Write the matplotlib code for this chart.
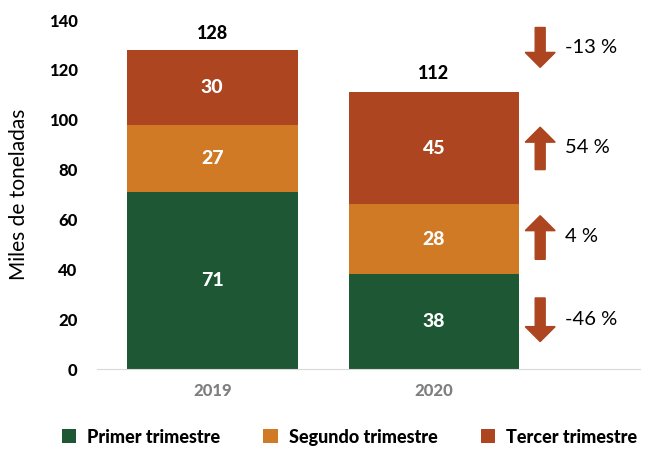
import numpy as np
from matplotlib import pyplot as plt

years = ["2019", "2020"]
primer = [71, 38]
segundo = [27, 28]
tercer = [30, 45]
totales = [128, 112]
cambios = ["-13 %", "54 %", "4 %", "-46 %"]

verde = "#1D5733"
naranja = "#D07A25"
oxido = "#AC4520"

plt.rcParams['font.family'] = ['Lato', 'DejaVu Sans']

fig = plt.figure(figsize=(6.47, 4.55), dpi=100)
ax = fig.add_axes([0.15, 0.189, 0.839, 0.767])

x = np.arange(len(years))
w = 0.77
b1 = ax.bar(x, primer, w, color=verde, label="Primer trimestre")
b2 = ax.bar(x, segundo, w, bottom=primer, color=naranja, label="Segundo trimestre")
bottom3 = [p + s for p, s in zip(primer, segundo)]
b3 = ax.bar(x, tercer, w, bottom=bottom3, color=oxido, label="Tercer trimestre")

for bars, vals, base in [(b1, primer, [0, 0]), (b2, segundo, primer), (b3, tercer, bottom3)]:
    for i, v in enumerate(vals):
        ax.text(x[i], base[i] + v / 2, str(v), ha="center", va="center",
                color="white", fontsize=14, fontweight="black")

for i, t in enumerate(totales):
    ax.text(x[i], t + 3, str(t), ha="center", va="bottom", fontsize=13, fontweight="black")

# flechas de cambio
xa = 1.48
arrows = [(137, 121), (80, 97), (44, 61.5), (28.5, 11)]
ypos = [129, 89, 53, 20]
for (y0, y1), lab, yp in zip(arrows, cambios, ypos):
    ax.arrow(xa, y0, 0, y1 - y0, width=0.045, head_width=0.135, head_length=6,
             length_includes_head=True, color=oxido, clip_on=False)
    ax.text(1.59, yp, lab, ha="left", va="center", fontsize=14.5)

ax.set_xlim(-0.52, 1.93)
ax.set_ylim(0, 140)
ax.set_yticks(range(0, 141, 20))
ax.set_xticks(x)
ax.set_xticklabels(years, fontsize=12, fontweight="black", color="#7F7F7F")
for lbl in ax.get_yticklabels():
    lbl.set_fontweight("black")
    lbl.set_fontsize(12)
ax.tick_params(length=0, pad=10)
ax.tick_params(axis="y", pad=14)
ax.set_ylabel("Miles de toneladas", fontsize=15, labelpad=14)
for s in ["top", "right", "left"]:
    ax.spines[s].set_visible(False)
ax.spines["bottom"].set_color("#D9D9D9")

fig.legend(handles=[b1, b2, b3], loc="lower center", bbox_to_anchor=(0.54, -0.015), ncol=3,
           frameon=False, prop={"weight": "black", "size": 13}, handlelength=0.8,
           handleheight=0.8, columnspacing=2.4, handletextpad=0.6)

plt.savefig("out.png", dpi=100)
